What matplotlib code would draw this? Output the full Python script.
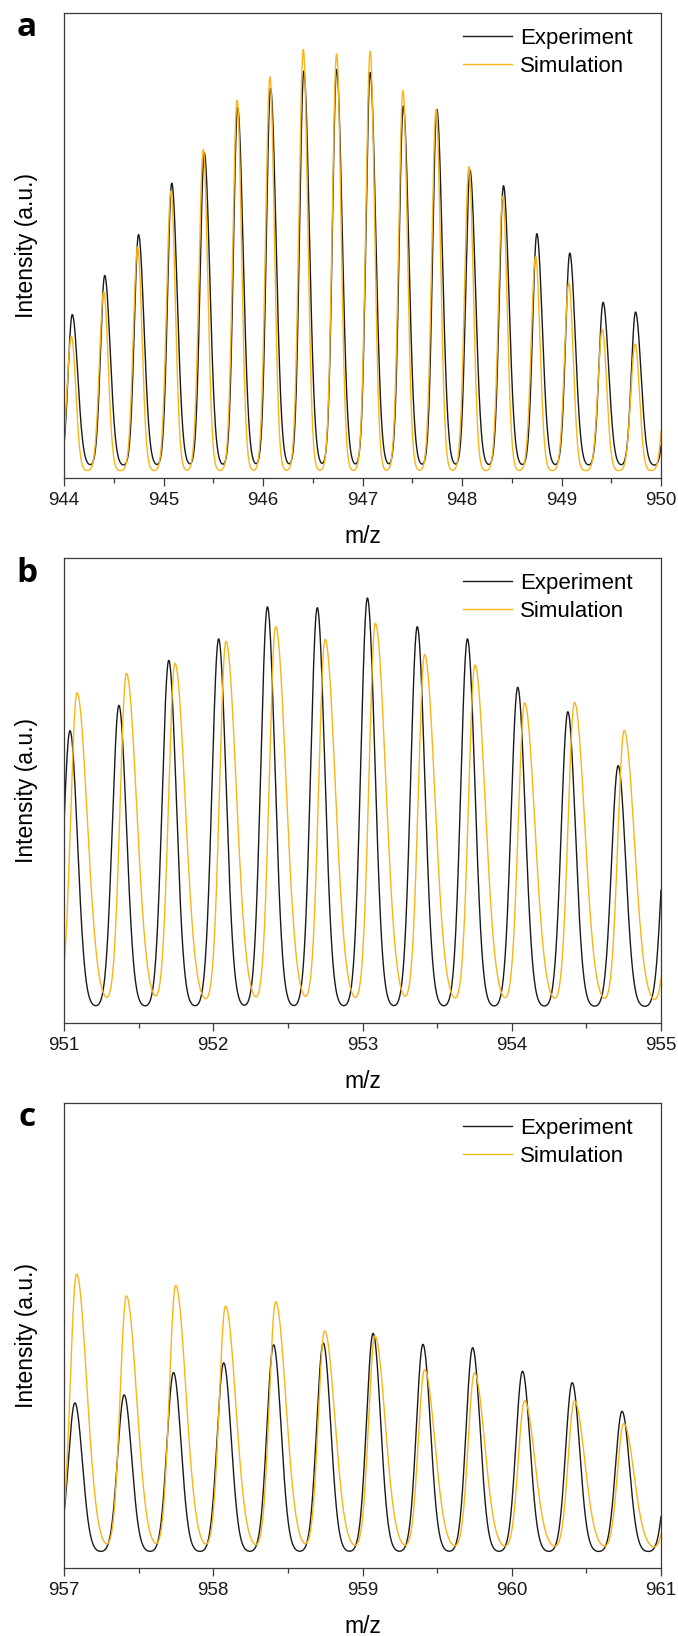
"""Isotope pattern panels a/b/c: experiment vs simulation (m/z)."""
import matplotlib

matplotlib.use("Agg")
import matplotlib.pyplot as plt  # noqa: E402
import numpy as np  # noqa: E402
from matplotlib.ticker import MultipleLocator  # noqa: E402

plt.rcParams.update({
    "font.family": ["Liberation Sans", "DejaVu Sans"],
    "axes.edgecolor": "#3a3a3a", "axes.linewidth": 0.9,
    "xtick.color": "#3a3a3a", "xtick.labelcolor": "#1a1a1a",
})

EXP_C, SIM_C = "#1a1a1a", "#FBB417"

# ---- peak lists (centre m/z, apex intensity, a.u.) ----
# panel a
A_XLIM = (944, 950)
A_EXP_MZ = [944.083, 944.409, 944.749, 945.083, 945.410, 945.745, 946.076, 946.410, 946.740,
            947.077, 947.410, 947.747, 948.080, 948.417, 948.752, 949.083, 949.418, 949.744, 950.080]
A_EXP_I = [37.1, 46.4, 56.1, 68.3, 75.5, 86.2, 90.8, 94.9, 95.3,
           94.6, 86.6, 85.8, 71.4, 67.7, 56.3, 51.7, 40.0, 37.7, 30.0]
A_SIM_MZ = [944.074, 944.400, 944.740, 945.075, 945.400, 945.740, 946.070, 946.405, 946.740,
            947.077, 947.407, 947.740, 948.070, 948.410, 948.740, 949.074, 949.410, 949.740, 950.065]
A_SIM_I = [31.9, 42.5, 53.2, 66.4, 76.3, 88.0, 93.5, 100.0, 99.0,
           99.6, 90.3, 85.8, 72.2, 65.2, 50.9, 44.6, 33.6, 30.1, 28.0]

# panel b
B_XLIM = (951, 955)
B_EXP_MZ = [951.040, 951.368, 951.702, 952.036, 952.363, 952.697, 953.033, 953.367, 953.703,
            954.040, 954.376, 954.713, 955.050]
B_EXP_I = [67.7, 73.7, 84.4, 89.5, 97.1, 96.9, 99.2, 92.4, 89.5, 78.0, 72.2, 59.4, 55.0]
B_SIM_MZ = [951.087, 951.418, 951.743, 952.085, 952.418, 952.749, 953.086, 953.416, 953.753,
            954.086, 954.420, 954.753, 955.090]
B_SIM_I = [76.7, 81.3, 83.7, 88.9, 92.4, 89.4, 93.2, 85.8, 83.3, 74.3, 74.4, 67.7, 62.0]

# panel c
C_XLIM = (957, 961)
C_EXP_MZ = [957.073, 957.403, 957.734, 958.070, 958.404, 958.737, 959.071, 959.405, 959.738,
            960.072, 960.405, 960.739, 961.070]
C_EXP_I = [37.5, 39.4, 44.7, 47.0, 51.3, 51.7, 54.0, 51.4, 50.6, 45.0, 42.3, 35.5, 32.0]
C_SIM_MZ = [957.084, 957.418, 957.748, 958.082, 958.418, 958.746, 959.083, 959.416, 959.750,
            960.086, 960.420, 960.750, 961.085]
C_SIM_I = [68.1, 62.9, 65.4, 60.5, 61.5, 54.6, 53.4, 45.4, 44.6, 38.0, 38.0, 32.6, 30.0]

# peak shape per trace: (sigma left, sigma right, baseline)
SHAPES = {
    "a": {"exp": (0.042, 0.055, 1.2), "sim": (0.044, 0.044, 0.0)},
    "b": {"exp": (0.044, 0.050, 2.1), "sim": (0.042, 0.068, 2.8)},
    "c": {"exp": (0.044, 0.050, 2.1), "sim": (0.042, 0.068, 2.8)},
}


def profile(x, centres, heights, sl, sr, base):
    y = np.full_like(x, base)
    for c, h in zip(centres, heights):
        s = np.where(x < c, sl, sr)
        y += (h - base) * np.exp(-0.5 * ((x - c) / s) ** 2)
    return y


PANELS = [
    ("a", A_XLIM, A_EXP_MZ, A_EXP_I, A_SIM_MZ, A_SIM_I),
    ("b", B_XLIM, B_EXP_MZ, B_EXP_I, B_SIM_MZ, B_SIM_I),
    ("c", C_XLIM, C_EXP_MZ, C_EXP_I, C_SIM_MZ, C_SIM_I),
]

fig = plt.figure(figsize=(6.78, 16.36), dpi=100)
H = 1636.0
bottoms = [478, 1023, 1568]

for (tag, xlim, emz, ei, smz, si), yb in zip(PANELS, bottoms):
    ax = fig.add_axes([64 / 678, 1 - yb / H, 597 / 678, 465 / H])
    x = np.linspace(xlim[0], xlim[1], 4000)
    sh = SHAPES[tag]
    ax.plot(x, profile(x, emz, ei, *sh["exp"]), color=EXP_C, lw=1.0, label="Experiment")
    ax.plot(x, profile(x, smz, si, *sh["sim"]), color=SIM_C, lw=1.0, label="Simulation")
    ax.set_xlim(*xlim)
    ax.set_ylim(-1.7, 108.7)
    ax.set_yticks([])
    ax.xaxis.set_major_locator(MultipleLocator(1))
    ax.xaxis.set_minor_locator(MultipleLocator(0.5))
    ax.tick_params(axis="x", which="major", direction="out", length=5.8, width=0.9,
                   labelsize=13.5, pad=4.0)
    ax.tick_params(axis="x", which="minor", direction="out", length=3.6, width=0.9)
    ax.set_xlabel("m/z", fontsize=16.5, labelpad=12)
    ax.set_ylabel("Intensity (a.u.)", fontsize=16.5, labelpad=19)
    ax.legend(loc="upper right", bbox_to_anchor=(0.953, 0.968), frameon=False, fontsize=16,
              handlelength=2.2, handletextpad=0.36, labelspacing=0.33,
              borderaxespad=0.0, borderpad=0.0)
    fig.text(27 / 678, 1 - (yb - 450) / H, tag, fontsize=24, fontweight="bold",
             ha="center", va="center", family=["Open Sans", "DejaVu Sans"])

fig.savefig("out.png", dpi=100, facecolor="white")
